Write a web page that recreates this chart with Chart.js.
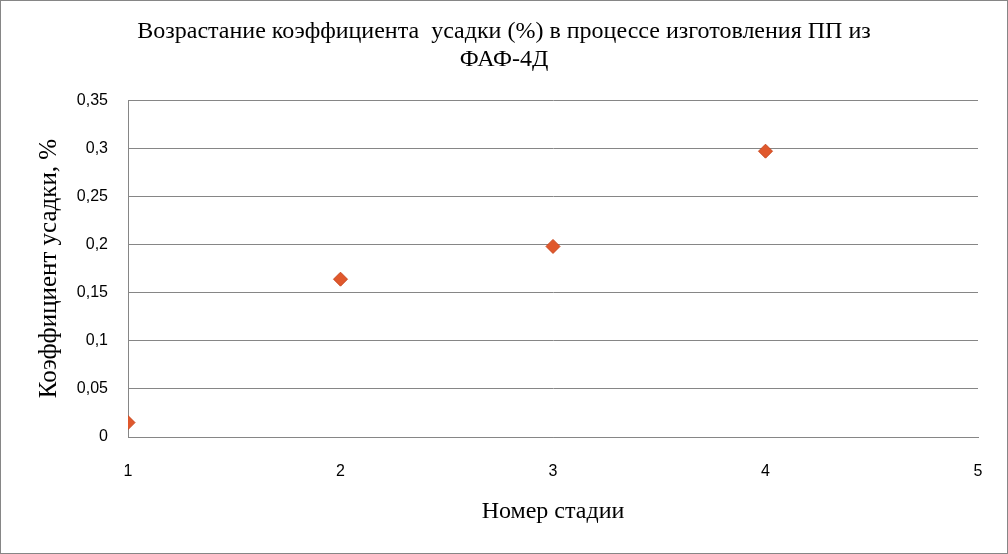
<!DOCTYPE html>
<html><head><meta charset="utf-8">
<script src="https://cdn.jsdelivr.net/npm/chart.js@4"></script>
<style>html,body{margin:0;padding:0;background:#fff}#w{width:1008px;height:554px}</style>
</head><body><div id="w"><canvas id="c"></canvas></div>
<script>
const stages = [1, 2, 3, 4];
const shrinkage = [0.015, 0.164, 0.198, 0.297];
const yTicks = [0, 0.05, 0.1, 0.15, 0.2, 0.25, 0.3, 0.35];
const titleLines = ['Возрастание коэффициента  усадки (%) в процессе изготовления ПП из', 'ФАФ-4Д'];

const border = {id:'border', afterDraw(ch){const x=ch.ctx;x.save();x.strokeStyle='#868686';x.lineWidth=1;x.strokeRect(0.5,0.5,ch.width-1,ch.height-1);x.restore();}};

new Chart(document.getElementById('c'), {
  type: 'scatter',
  data: { datasets: [{ data: stages.map((s,i)=>({x:s,y:shrinkage[i]})), pointStyle:'rectRot', radius:7, hoverRadius:7,
    backgroundColor:'#E0582C', borderColor:'#C9471F', borderWidth:1 }]},
  options: {
    responsive:true, maintainAspectRatio:false, animation:false,
    layout:{padding:{left:30,right:30,top:8,bottom:24}},
    plugins:{legend:{display:false}, tooltip:{enabled:false},
      title:{display:true, text:titleLines, color:'#000', font:{family:'Liberation Serif',size:24,weight:'normal',lineHeight:1.17}, padding:{top:10,bottom:26}}},
    scales:{
      x:{type:'linear', min:1, max:5, afterFit(a){a.height=93;},
        afterBuildTicks(a){a.ticks=[1,2,3,4,5].map(v=>({value:v}));},
        grid:{display:false, drawTicks:false}, border:{color:'#868686'},
        ticks:{color:'#000', font:{family:'Liberation Sans',size:16}, padding:25},
        title:{display:true,text:'Номер стадии',color:'#000',font:{family:'Liberation Serif',size:24},padding:{top:10}}},
      y:{min:0, max:0.35, afterFit(a){a.width=98;},
        afterBuildTicks(a){a.ticks=yTicks.map(v=>({value:v}));},
        grid:{color:'#868686', drawTicks:false}, border:{color:'#868686'},
        ticks:{color:'#000', font:{family:'Liberation Sans',size:16}, padding:20, callback:v=>String(v).replace('.',',')},
        title:{display:true,text:'Коэффициент усадки, %',color:'#000',font:{family:'Liberation Serif',size:25},padding:{bottom:0}}}
    }
  },
  plugins:[border]
});
</script></body></html>
